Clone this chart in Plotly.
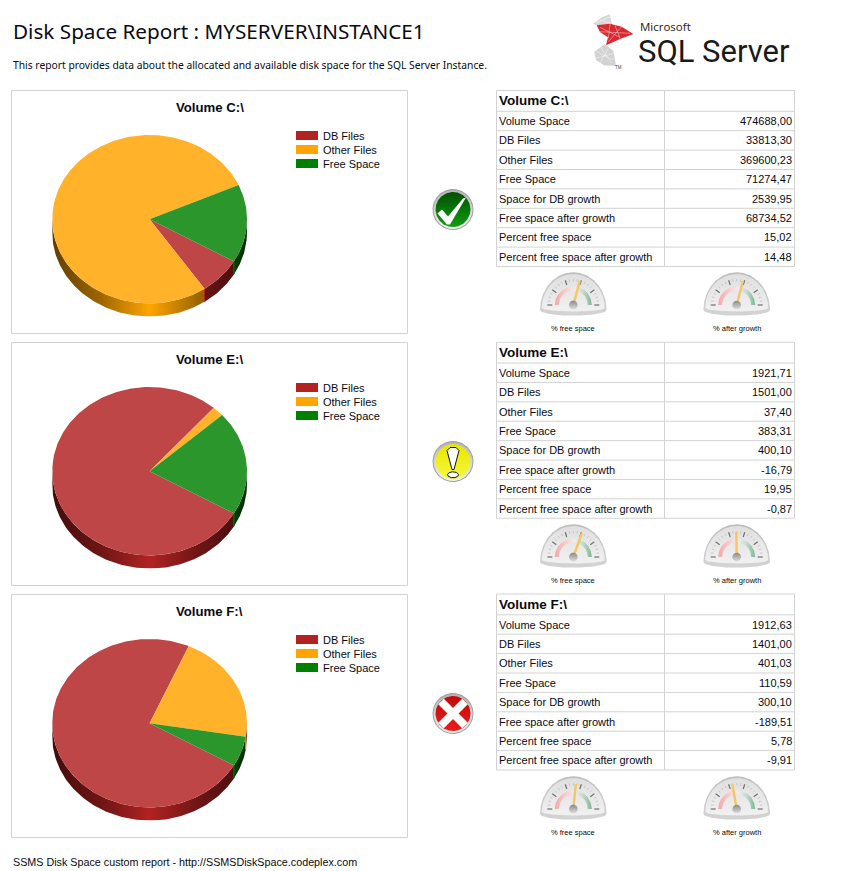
import numpy as np
import plotly.graph_objects as go

W, H = 843, 871

VOLUMES = ["C:\\", "E:\\", "F:\\"]
STATUS = ["ok", "warn", "bad"]
ROW_LABELS = [
    "Volume Space",
    "DB Files",
    "Other Files",
    "Free Space",
    "Space for DB growth",
    "Free space after growth",
    "Percent free space",
    "Percent free space after growth",
]
C_VALUES = [474688.00, 33813.30, 369600.23, 71274.47, 2539.95, 68734.52, 15.02, 14.48]
E_VALUES = [1921.71, 1501.00, 37.40, 383.31, 400.10, -16.79, 19.95, -0.87]
F_VALUES = [1912.63, 1401.00, 401.03, 110.59, 300.10, -189.51, 5.78, -9.91]
ALL_VALUES = [C_VALUES, E_VALUES, F_VALUES]

SLICE_NAMES = ["DB Files", "Other Files", "Free Space"]
SLICE_COLORS = [(178, 34, 34), (255, 165, 0), (0, 128, 0)]
TOP_COLORS = ["#BE4646", "#FFB22A", "#2B962B"]
GAUGE_NAMES = ["% free space", "% after growth"]

PIE_START = 30  # degrees clockwise from east
DEPTH = 0.155  # wall height, in units of the vertical radius
ROW_STEP = 252  # vertical distance between the report blocks

FONT = "Liberation Sans"
HEAD_FONT = "Noto Sans"
INK = "#0A0A14"
GRID = "#D3D3D3"


def rgb(c, k=1.0):
    return "rgb(%d,%d,%d)" % tuple(int(v * k) for v in c)


def ellipse(cx, cy, rx, ry, a0=0, a1=360):
    t = np.radians(np.linspace(a0, a1, max(int(abs(a1 - a0)) + 1, 3)))
    return cx + rx * np.cos(t), cy + ry * np.sin(t)


fig = go.Figure()


def poly(x, y, color=None, gradient=None, line=None, width=0):
    # every decoration goes through the same pixel axes
    kw = {"fillgradient": gradient} if gradient else {"fillcolor": color}
    fig.add_trace(
        go.Scatter(
            x=list(x), y=list(y), mode="lines", fill="toself",
            line=dict(color=line or "rgba(0,0,0,0)", width=width),
            hoverinfo="skip", showlegend=False, **kw,
        )
    )


def stroke(x, y, color, width):
    fig.add_trace(
        go.Scatter(
            x=list(x), y=list(y), mode="lines", line=dict(color=color, width=width),
            hoverinfo="skip", showlegend=False,
        )
    )


def vgrad(top, bottom):
    return dict(type="vertical", colorscale=[[0, top], [1, bottom]])


def draw_pie(row, values):
    axis = row + 2
    top = 135 + row * ROW_STEP
    bottom = 316.5 + row * ROW_STEP
    fig.update_layout({
        f"xaxis{axis}": dict(domain=[52.2 / W, 247 / W], range=[-1, 1], visible=False, anchor=f"y{axis}"),
        f"yaxis{axis}": dict(domain=[1 - bottom / H, 1 - top / H], range=[-1 - DEPTH, 1], visible=False, anchor=f"x{axis}"),
    })
    refs = dict(xaxis=f"x{axis}", yaxis=f"y{axis}", mode="lines", hoverinfo="skip", showlegend=False)
    total = sum(values)
    edges = PIE_START + np.cumsum([0] + values) / total * 360

    # walls first, top faces go over them
    for i in range(3):
        a0, a1 = edges[i], edges[i + 1]
        for lo, hi in [(0, 180), (360, 540)]:
            s, e = max(a0, lo), min(a1, hi)
            if e <= s:
                continue
            t = np.radians(np.linspace(s, e, int(e - s) + 2))
            xs = np.cos(t)
            ys = -np.sin(t)
            scale = [[p, rgb(SLICE_COLORS[i], k)] for p, k in
                     [(0, 0.38), (0.25, 0.62), (0.5, 1), (0.75, 0.62), (1, 0.38)]]
            fig.add_trace(go.Scatter(
                x=np.r_[xs, xs[::-1]], y=np.r_[ys, ys[::-1] - DEPTH], fill="toself",
                fillgradient=dict(type="horizontal", colorscale=scale, start=-1, stop=1),
                line=dict(width=0), **refs,
            ))
    for i in range(3):
        e = edges[i + 1] % 360
        if e < 180:
            ex, ey = np.cos(np.radians(e)), -np.sin(np.radians(e))
            fig.add_trace(go.Scatter(x=[ex, ex], y=[ey, ey - DEPTH],
                                     line=dict(color=rgb(SLICE_COLORS[i]), width=1), **refs))
    for i in range(3):
        t = np.radians(np.linspace(edges[i], edges[i + 1], int(edges[i + 1] - edges[i]) + 2))
        fig.add_trace(go.Scatter(
            x=np.r_[0, np.cos(t), 0], y=np.r_[0, -np.sin(t), 0], fill="toself",
            fillcolor=TOP_COLORS[i], line=dict(width=0), **refs,
        ))


def draw_icon(kind, cy):
    cx = 453
    poly(*ellipse(cx, cy, 20.5, 20.5), color="#A0A0A0")
    poly(*ellipse(cx, cy, 19.5, 19.5), gradient=vgrad("#F4F4F4", "#B4B4B4"))
    if kind == "ok":
        poly(*ellipse(cx, cy, 17.5, 17.5), gradient=vgrad("#109E10", "#004F00"))
        shape = [(-15.5, 4), (-11, 0), (-5, 7), (10, -11), (13, -12), (-3, 15), (-6, 15), (-15.5, 4)]
        poly([cx + a for a, _ in shape], [cy + b for _, b in shape], color="white")
    elif kind == "warn":
        poly(*ellipse(cx, cy, 17.5, 17.5), gradient=vgrad("#F8F83C", "#E6E600"))
        poly([cx - 6, cx - 3, cx + 3, cx + 6, cx + 1, cx - 1, cx - 6],
             [cy - 11, cy - 14, cy - 14, cy - 11, cy + 8, cy + 8, cy - 11],
             color="white", line="#111111", width=1)
        poly(*ellipse(cx, cy + 13.3, 5.5, 3), color="white", line="#111111", width=1)
    else:
        poly(*ellipse(cx, cy, 17.5, 17.5), gradient=vgrad("#EA1C1C", "#C20A0A"))
        stroke([cx - 12, cx + 12], [cy - 12, cy + 12], "white", 8)
        stroke([cx - 12, cx + 12], [cy + 12, cy - 12], "white", 8)


def draw_gauge(hx, hy, value):
    # dome
    ax, ay = ellipse(hx, hy + 5, 33.3, 37.7, 180, 360)
    bx, by = ellipse(hx, hy + 5, 33.3, 5.7, 0, 180)
    poly(np.r_[ax, bx], np.r_[ay, by], gradient=vgrad("#D4D4D4", "#BDBDBD"))
    ax, ay = ellipse(hx, hy + 3, 31.5, 34, 180, 360)
    bx, by = ellipse(hx, hy + 3, 31.5, 3.5, 0, 180)
    poly(np.r_[ax, bx], np.r_[ay, by], gradient=vgrad("#F1F1F1", "#DFDFDF"))
    # colour band
    ox, oy = ellipse(hx, hy, 18.5, 18.5, 180, 360)
    ix, iy = ellipse(hx, hy, 14.5, 14.5, 180, 360)
    poly(np.r_[ox, ix[::-1]], np.r_[oy, iy[::-1]], gradient=dict(
        type="horizontal",
        colorscale=[[0, "#F4A8A8"], [0.4, "#FADADA"], [0.55, "#EDEDED"], [0.75, "#C6DDCE"], [1, "#7FB896"]],
    ))
    # ticks
    for a in np.arange(-90, 91, 9):
        t = np.radians(a)
        major = a in (-90, -54, -18, 18, 54, 90)
        r0, r1 = (21, 26) if major else (23.5, 26)
        stroke([hx + r0 * np.sin(t), hx + r1 * np.sin(t)],
               [hy - r0 * np.cos(t), hy - r1 * np.cos(t)],
               "#707070" if major else "#BDBDBD", 1.2 if major else 0.8)
    # needle, one degree per percent
    t = np.radians(value)
    stroke([hx, hx + 25 * np.sin(t)], [hy, hy - 25 * np.cos(t)], "#F6C564", 2.4)
    poly(*ellipse(hx, hy, 4.4, 4.4), gradient=vgrad("#DCDCDC", "#8A8A8A"))


def draw_logo():
    # coordinates from the 3x crop of the logo corner
    def pts(p):
        return [580 + a / 3 for a, _ in p], [10 + b / 3 for _, b in p]

    gray_top = [(40, 41), (65, 22), (90, 13), (96, 46), (62, 52)]
    gray_low = [(74, 103), (100, 122), (108, 168), (72, 166), (48, 150), (43, 125)]
    red = [(50, 46), (90, 41), (125, 50), (160, 72), (122, 86), (78, 106), (84, 82), (60, 66)]
    poly(*pts(gray_top), color="#D8D8D8")
    poly(*pts(gray_low), color="#D2D2D2")
    poly(*pts(red), color="#DA2830")
    for seg in [[(60, 52), (120, 82)], [(90, 42), (85, 85)], [(125, 50), (85, 95)],
                [(60, 65), (150, 70)], [(105, 46), (120, 85)]]:
        stroke(*pts(seg), "#F5B9BB", 0.6)
    for seg in [[(60, 30), (92, 40)], [(48, 40), (90, 20)], [(50, 125), (100, 150)],
                [(85, 115), (60, 160)], [(60, 110), (95, 160)], [(47, 145), (102, 130)]]:
        stroke(*pts(seg), "#F4F4F4", 0.6)


for row in range(3):
    draw_pie(row, ALL_VALUES[row][1:4])

# pixel axes over the whole page, for the hand-drawn bits
fig.update_layout(
    xaxis=dict(domain=[0, 1], range=[0, W], visible=False, anchor="y"),
    yaxis=dict(domain=[0, 1], range=[H, 0], visible=False, anchor="x"),
)

shapes = []
annotations = []


def note(x, y, text, size, font=FONT, anchor="left", color=INK):
    annotations.append(dict(
        x=x - 2 if anchor == "left" else x + 2 if anchor == "right" else x,
        y=y, xref="x", yref="y", text=text, showarrow=False, xanchor=anchor,
        yanchor="middle", font=dict(family=font, size=size, color=color),
    ))


def hline(x0, x1, y):
    shapes.append(dict(type="line", xref="x", yref="y", x0=x0, x1=x1, y0=y, y1=y,
                       line=dict(color=GRID, width=1), layer="below"))


def vline(x, y0, y1):
    shapes.append(dict(type="line", xref="x", yref="y", x0=x, x1=x, y0=y0, y1=y1,
                       line=dict(color=GRID, width=1), layer="below"))


def draw_table(volume, values, dy):
    left, mid, right = 496.5, 664.5, 794.5
    top, head = 90.5 + dy, 111.3 + dy
    step = 19.4
    for i in range(len(values) + 1):
        hline(left, right, head + i * step)
    hline(left, right, top)
    bottom = head + len(values) * step
    for x in (left, mid, right):
        vline(x, top, bottom)
    note(498.5, (top + head) / 2, f"<b>Volume {volume}</b>", 13.5)
    for i, (label, value) in enumerate(zip(ROW_LABELS, values)):
        y = head + (i + 0.5) * step
        note(498.5, y, label, 11)
        note(791.7, y, f"{value:.2f}".replace(".", ","), 11, anchor="right")


draw_logo()

for row, volume in enumerate(VOLUMES):
    dy = row * ROW_STEP
    shapes.append(dict(type="rect", xref="x", yref="y", x0=11.5, x1=407.5, y0=90.5 + dy, y1=333.5 + dy,
                       line=dict(color=GRID, width=1), layer="below"))
    note(209.5, 107.5 + dy, f"<b>Volume {volume}</b>", 13.2, anchor="center")
    for i, name in enumerate(SLICE_NAMES):
        y0 = 131 + i * 14 + dy
        shapes.append(dict(type="rect", xref="x", yref="y", x0=296, x1=318, y0=y0, y1=y0 + 9,
                           fillcolor=rgb(SLICE_COLORS[i]), line=dict(width=0), layer="below"))
        note(323, y0 + 5, name, 11)

    draw_icon(STATUS[row], 209.5 + dy)
    for hx, name, value in zip([573.3, 736.7], GAUGE_NAMES, ALL_VALUES[row][6:]):
        draw_gauge(hx, 305 + dy, value)
        note(hx, 328 + dy, name, 7.5, anchor="center")

    draw_table(volume, ALL_VALUES[row], row * 251.75)

note(13, 30.5, "Disk Space Report : MYSERVER\\INSTANCE1", 20.7, font=HEAD_FONT)
note(13, 64.5, "This report provides data about the allocated and available disk space for the SQL Server Instance.",
     10.3, font=HEAD_FONT)
note(13, 862, "SSMS Disk Space custom report - http://SSMSDiskSpace.codeplex.com", 10.75)
note(640, 26, "Microsoft", 11.5, font="Open Sans", color="#1A1A1A")
note(638, 51.5, "SQL Server", 31, font="Roboto", color="#1A1A1A")
note(615, 67, "TM", 4.5, font=FONT, color="#444444")

fig.update_layout(
    width=W, height=H, margin=dict(l=0, r=0, t=0, b=0),
    paper_bgcolor="white", plot_bgcolor="rgba(0,0,0,0)",
    shapes=shapes, annotations=annotations, showlegend=False,
)

fig.write_html(
    "out.html",
    config=dict(displayModeBar=False),
    post_script="document.body.style.margin='0';document.body.style.overflow='hidden';",
)
